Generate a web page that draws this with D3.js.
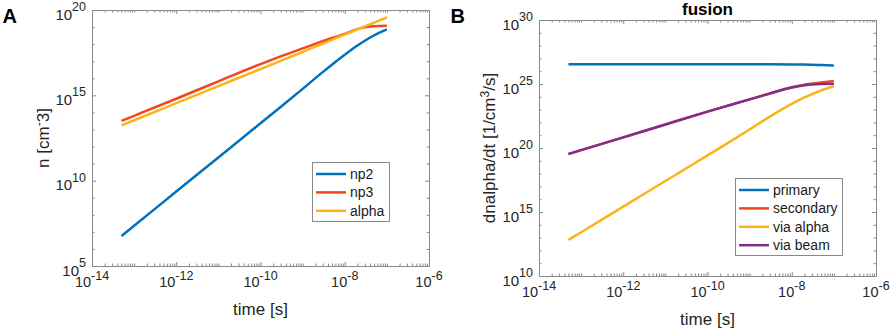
<!DOCTYPE html>
<html>
<head>
<meta charset="utf-8">
<script src="https://cdn.jsdelivr.net/npm/d3@7"></script>
<style>
  html, body { margin: 0; padding: 0; background: #fff; }
  svg { display: block; font-family: "Liberation Sans", Arial, Helvetica, sans-serif; }
</style>
</head>
<body>
<svg id="chart" width="892" height="331"></svg>
<script>
// Shared time grid for both panels [s]
const time = [5e-14, 1e-13, 1e-12, 1e-11, 1e-10, 3e-10, 1e-9, 3e-9, 1e-8, 2e-8, 3e-8, 5e-8, 1e-7];

// Panel A - densities [cm^-3]
const np2   = [5.75e6, 2.29e7, 2.29e9, 2.29e11, 2.29e13, 2.09e14, 2.4e15, 2.29e16, 2.4e17, 8.3e17, 1.58e18, 3.31e18, 7.41e18];
const np3   = [3.16e13, 6.3e13, 6.3e14, 6.6e15, 6.76e16, 1.9e17, 5.6e17, 1.51e18, 3.98e18, 7.6e18, 9.8e18, 1.12e19, 1.2e19];
const alpha = [1.74e13, 3.47e13, 3.47e14, 3.47e15, 3.47e16, 1.05e17, 3.55e17, 1.07e18, 3.63e18, 7.24e18, 1.1e19, 1.82e19, 3.72e19];

// Panel B - fusion rates [1/cm^3/s]
const primary   = [3.47e26, 3.47e26, 3.47e26, 3.47e26, 3.47e26, 3.47e26, 3.47e26, 3.45e26, 3.39e26, 3.31e26, 3.16e26, 3.02e26, 2.82e26];
const secondary = [3.39e19, 6.76e19, 6.76e20, 6.92e21, 6.92e22, 2.0e23, 6.31e23, 1.82e24, 5.5e24, 8.91e24, 1.07e25, 1.32e25, 1.7e25];
const viaAlpha  = [6.61e12, 2.63e13, 2.63e15, 2.63e17, 2.63e19, 2.4e20, 2.82e21, 2.82e22, 2.82e23, 8.91e23, 1.58e24, 3.16e24, 6.61e24];
const viaBeam   = [3.39e19, 6.76e19, 6.76e20, 6.92e21, 6.92e22, 2.0e23, 6.31e23, 1.78e24, 5.25e24, 7.94e24, 9.12e24, 1.0e25, 1.05e25];

// Tick exponents (labels are 10^e)
const xTickExp  = [-14, -12, -10, -8, -6];
const yTickExpA = [5, 10, 15, 20];
const yTickExpB = [10, 15, 20, 25, 30];

const BLUE = "#0072BD", RED = "#F4461B", YELLOW = "#FCB316", PURPLE = "#7E2F8E";
const BOX  = "#8a8a8a";
const TXT  = "#262626";

const svg = d3.select("#chart");

function drawPanel(cfg) {
  const b = cfg.box;
  const g = svg.append("g");

  const x = d3.scaleLog().domain([1e-14, 1e-6]).range([b.left, b.right]);
  const y = d3.scaleLog().domain([10 ** cfg.yTickExp[0], 10 ** cfg.yTickExp[cfg.yTickExp.length - 1]])
    .range([b.bottom, b.top]);

  const xMajor = xTickExp.map(e => 10 ** e);
  const xMinor = x.ticks().filter(t => !xMajor.some(m => Math.abs(t / m - 1) < 1e-6));
  const yLo = cfg.yTickExp[0], yHi = cfg.yTickExp[cfg.yTickExp.length - 1];
  const yMajor = cfg.yTickExp.map(e => 10 ** e);
  const yMinor = d3.range(yLo, yHi + 1).filter(e => !cfg.yTickExp.includes(e)).map(e => 10 ** e);

  const style = sel => {
    sel.select(".domain").attr("stroke", BOX);
    sel.selectAll(".tick line").attr("stroke", BOX);
    sel.selectAll("text").remove();
  };
  const noDomain = sel => { sel.select(".domain").remove(); style(sel); };

  // Box on all four sides, ticks pointing inward
  const sides = [
    [d3.axisBottom, x, `translate(0,${b.bottom})`, xMajor, xMinor],
    [d3.axisTop,    x, `translate(0,${b.top})`,    xMajor, xMinor],
    [d3.axisLeft,   y, `translate(${b.left},0)`,   yMajor, yMinor],
    [d3.axisRight,  y, `translate(${b.right},0)`,  yMajor, yMinor]
  ];
  sides.forEach(([ax, sc, tr, maj, min]) => {
    g.append("g").attr("transform", tr)
      .call(ax(sc).tickValues(min).tickSizeInner(-2.5).tickSizeOuter(0).tickFormat(""))
      .call(noDomain);
    g.append("g").attr("transform", tr)
      .call(ax(sc).tickValues(maj).tickSizeInner(-4).tickSizeOuter(0).tickFormat(""))
      .call(style);
  });

  // Tick labels with superscript exponents
  xTickExp.forEach(e => {
    const t = g.append("text")
      .attr("x", x(10 ** e)).attr("y", b.bottom + 20.5)
      .attr("text-anchor", "middle").attr("fill", TXT).attr("font-size", 14.5);
    t.append("tspan").text("10");
    t.append("tspan").attr("dy", -7).attr("font-size", 12.5).text(e < 0 ? "-" + (-e) : e);
  });
  cfg.yTickExp.forEach(e => {
    const t = g.append("text")
      .attr("x", b.left - 6).attr("y", y(10 ** e) + 9.5)
      .attr("text-anchor", "end").attr("fill", TXT).attr("font-size", 15);
    t.append("tspan").text("10");
    t.append("tspan").attr("dy", -8.5).attr("font-size", 12.5).text(e);
  });

  // Curves
  const line = d3.line()
    .x((d, i) => x(time[i]))
    .y(d => y(d))
    .curve(d3.curveMonotoneX);

  cfg.series.forEach(s => {
    g.append("path").datum(s.values)
      .attr("d", line)
      .attr("fill", "none")
      .attr("stroke", s.color)
      .attr("stroke-width", 2.5)
      .attr("stroke-linejoin", "round");
  });

  // Axis labels
  g.append("text")
    .attr("x", (b.left + b.right) / 2).attr("y", b.bottom + 49)
    .attr("text-anchor", "middle").attr("fill", TXT).attr("font-size", 17)
    .text("time [s]");

  const yl = g.append("text")
    .attr("transform", `translate(${cfg.yLabelX},${(b.top + b.bottom) / 2}) rotate(-90)`)
    .attr("text-anchor", "middle").attr("fill", TXT).attr("font-size", 17);
  yl.append("tspan").text(cfg.yLabel[0]);
  yl.append("tspan").attr("dy", -6).attr("font-size", 12).text(cfg.yLabel[1]);
  yl.append("tspan").attr("dy", 6).text(cfg.yLabel[2]);

  // Legend
  const L = cfg.legend;
  g.append("rect")
    .attr("x", L.x + 0.5).attr("y", L.y + 0.5).attr("width", L.w).attr("height", L.h)
    .attr("fill", "#fff").attr("stroke", BOX);
  cfg.series.forEach((s, i) => {
    const ry = L.y + 12 + i * 18.4;
    g.append("line")
      .attr("x1", L.x + 4).attr("x2", L.x + 34)
      .attr("y1", ry).attr("y2", ry)
      .attr("stroke", s.color).attr("stroke-width", 2.5);
    g.append("text")
      .attr("x", L.x + 38).attr("y", ry + 5)
      .attr("fill", "#1a1a1a").attr("font-size", 14)
      .text(s.name);
  });

  // Panel letter
  svg.append("text")
    .attr("x", cfg.letter.x).attr("y", cfg.letter.y)
    .attr("font-size", 20).attr("font-weight", "bold").attr("fill", "#000")
    .text(cfg.letter.text);

  if (cfg.title) {
    g.append("text")
      .attr("x", (b.left + b.right) / 2).attr("y", 15)
      .attr("text-anchor", "middle").attr("font-size", 17).attr("font-weight", "bold")
      .attr("fill", "#000").text(cfg.title);
  }
}

drawPanel({
  box: { left: 92, right: 429, top: 10, bottom: 266 },
  yTickExp: yTickExpA,
  yLabel: ["n [cm", "-", "3]"],
  yLabelX: 48.5,
  series: [
    { name: "np2",   values: np2,   color: BLUE },
    { name: "np3",   values: np3,   color: RED },
    { name: "alpha", values: alpha, color: YELLOW }
  ],
  legend: { x: 312, y: 162, w: 77, h: 59 },
  letter: { text: "A", x: 2.5, y: 22.5 }
});

drawPanel({
  box: { left: 539, right: 876, top: 20, bottom: 276 },
  yTickExp: yTickExpB,
  yLabel: ["dnalpha/dt [1/cm", "3", "/s]"],
  yLabelX: 495,
  series: [
    { name: "primary",   values: primary,   color: BLUE },
    { name: "secondary", values: secondary, color: RED },
    { name: "via alpha", values: viaAlpha,  color: YELLOW },
    { name: "via beam",  values: viaBeam,   color: PURPLE }
  ],
  legend: { x: 735, y: 178, w: 107, h: 77 },
  letter: { text: "B", x: 450.5, y: 23.3 },
  title: "fusion"
});
</script>
</body>
</html>
